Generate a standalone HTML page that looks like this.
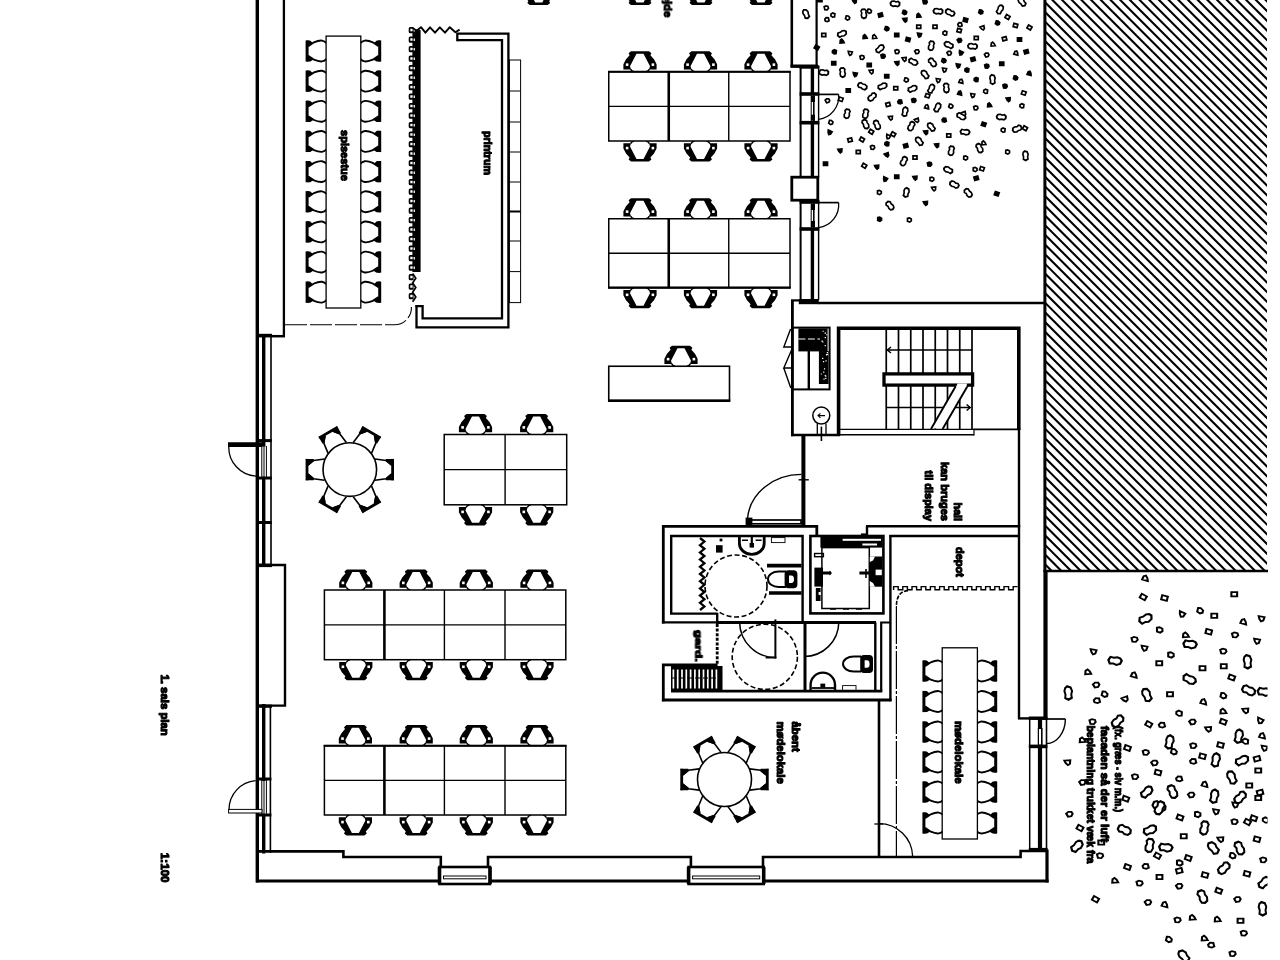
<!DOCTYPE html>
<html><head><meta charset="utf-8"><title>1. sals plan</title>
<style>html,body{margin:0;padding:0;background:#fff}body{width:1280px;height:960px;overflow:hidden}svg{display:block}text{font-family:"Liberation Sans",sans-serif;font-weight:bold;fill:#000;stroke:#000;stroke-width:1.1px;stroke-linejoin:round}</style>
</head><body>
<svg width="1280" height="960" viewBox="0 0 1280 960" fill="none" stroke="#000" stroke-linecap="butt" stroke-linejoin="miter">
<defs>
<g id="c1"><path d="M1.5 -10.6V10.6" stroke-width="3"/><path d="M2.6 -4.9L8.4 -8.7Q13 -10.7 16.4 -10.4Q19 -10 20.8 -8M2.6 4.9L8.4 8.7Q13 10.7 16.4 10.4Q19 10 20.8 8" stroke-width="1.9"/><path d="M1 -10.6L4.4 -10.6L7 -8.2L2.2 -4.4ZM1 10.6L4.6 10.6L8 8.4L2.4 4.2Z" fill="#000" stroke="none"/></g>
<g id="c3"><path d="M1.4 -10.7V10.7" stroke-width="2.8"/><path d="M2.6 -4.6L8 -9.2L19 -10.6M2.6 4.6L8 9.2L19 10.6" stroke-width="1.6"/><path d="M0 -10.7L8 -10.7L8.6 -8.6L2.4 -3.6ZM0 10.7L8 10.7L8.6 8.6L2.4 3.6Z" fill="#000" stroke="none"/></g>
<g id="c2"><path d="M-16.6 -2.2L-16.6 -7.5L-14 -12.5L-10.4 -16.6L-11.4 -18.4L-9 -20.6L9 -20.6L11.4 -18.4L10.4 -16.6L14 -12.5L16.6 -7.5L16.6 -2.2L9 -2.2L10 -5.6L3.5 -18L-3.5 -18L-10 -5.6L-9 -2.2Z" fill="#000" stroke="none"/><path d="M-9.4 -2.6Q-8.4 -0.6 -6 0M9.4 -2.6Q8.4 -0.6 6 0" stroke-width="1.4"/><rect x="-14.2" y="-8.4" width="2.6" height="2.6" fill="#fff" stroke="none"/><rect x="11.6" y="-8.4" width="2.6" height="2.6" fill="#fff" stroke="none"/></g>
<path id="p1" d="M-2.1 -1.2L-0.4 -2.1L1.7 -1.5L2.2 0.3L0.9 1.9L-1.4 1.7Z"/>
<path id="p2" d="M-2 -1.7L2 -1.7L2 1.7L-2 1.7Z"/>
<path id="p3" d="M-2.2 -1.5L1.9 -1.9L1.7 1L0.3 2.1L-1.2 0.6Z"/>
<path id="p4" d="M-1.8 -4L0.9 -4.2L2.5 -2.8L2.2 -0.8L3 1.2L2.3 3.4L0.2 4.2L-2 3.3L-2.6 1.2L-2 -0.6L-2.9 -2.4Z"/>
<path id="p5" d="M-0.8 -4.2L1.7 -3.5L2.8 -1.2L2.2 0.8L2.6 3L0.2 4.2L-2.2 3.2L-2 1L-2.8 -1.2L-2.3 -3.1Z"/>
<clipPath id="hc"><rect x="1045" y="0" width="222" height="571"/></clipPath>
</defs>
<g clip-path="url(#hc)" stroke-width="2.1">
<path d="M1040 578.65L1275 813.65M1040 568.97L1275 803.97M1040 559.27L1275 794.27M1040 549.59L1275 784.59M1040 539.89L1275 774.89M1040 530.21L1275 765.21M1040 520.51L1275 755.51M1040 510.83L1275 745.83M1040 501.13L1275 736.13M1040 491.45L1275 726.45M1040 481.76L1275 716.76M1040 472.07L1275 707.07M1040 462.38L1275 697.38M1040 452.69L1275 687.69M1040 443L1275 678M1040 433.31L1275 668.31M1040 423.62L1275 658.62M1040 413.92L1275 648.92M1040 404.24L1275 639.24M1040 394.55L1275 629.55M1040 384.86L1275 619.86M1040 375.16L1275 610.16M1040 365.48L1275 600.48M1040 355.79L1275 590.79M1040 346.1L1275 581.1M1040 336.4L1275 571.4M1040 326.72L1275 561.72M1040 317.03L1275 552.03M1040 307.34L1275 542.34M1040 297.64L1275 532.64M1040 287.96L1275 522.96M1040 278.27L1275 513.27M1040 268.58L1275 503.58M1040 258.88L1275 493.88M1040 249.2L1275 484.2M1040 239.51L1275 474.51M1040 229.82L1275 464.82M1040 220.12L1275 455.12M1040 210.44L1275 445.44M1040 200.75L1275 435.75M1040 191.06L1275 426.06M1040 181.37L1275 416.37M1040 171.68L1275 406.68M1040 161.99L1275 396.99M1040 152.3L1275 387.3M1040 142.61L1275 377.61M1040 132.92L1275 367.92M1040 123.23L1275 358.23M1040 113.54L1275 348.54M1040 103.85L1275 338.85M1040 94.16L1275 329.16M1040 84.47L1275 319.47M1040 74.78L1275 309.78M1040 65.09L1275 300.09M1040 55.4L1275 290.4M1040 45.71L1275 280.71M1040 36.02L1275 271.02M1040 26.33L1275 261.33M1040 16.64L1275 251.64M1040 6.95L1275 241.95M1040 -2.74L1275 232.26M1040 -12.43L1275 222.57M1040 -22.12L1275 212.88M1040 -31.82L1275 203.18M1040 -41.5L1275 193.5M1040 -51.19L1275 183.81M1040 -60.88L1275 174.12M1040 -70.58L1275 164.42M1040 -80.26L1275 154.74M1040 -89.95L1275 145.05M1040 -99.64L1275 135.36M1040 -109.34L1275 125.66M1040 -119.02L1275 115.98M1040 -128.71L1275 106.29M1040 -138.4L1275 96.6M1040 -148.1L1275 86.9M1040 -157.78L1275 77.22M1040 -167.47L1275 67.53M1040 -177.16L1275 57.84M1040 -186.86L1275 48.14M1040 -196.54L1275 38.46M1040 -206.23L1275 28.77M1040 -215.92L1275 19.08M1040 -225.62L1275 9.38"/>
</g>
<path d="M1044.9 0L1044.9 572" stroke-width="3"/>
<path d="M1045.5 570L1045.5 720" stroke-width="4.2"/>
<path d="M1044 571L1268 571" stroke-width="2.4"/>
<g>
<g stroke-width="1.7" fill="#fff" stroke-linejoin="miter">
<use href="#p5" transform="translate(806 14) rotate(-20) scale(0.95 1.1)"/>
<use href="#p2" transform="translate(820 0) rotate(180) scale(1 1)" fill="#000"/>
<use href="#p3" transform="translate(854.5 1.25) rotate(0) scale(1 1)" fill="#000"/>
<use href="#p4" transform="translate(895 3.75) rotate(100) scale(0.95 1.1)"/>
<use href="#p1" transform="translate(925 2) rotate(0) scale(1 1)" fill="#000"/>
<use href="#p5" transform="translate(1022 2) rotate(-35) scale(0.95 1.1)"/>
<use href="#p1" transform="translate(826.25 8) rotate(0) scale(1 1)"/>
<use href="#p1" transform="translate(833 15) rotate(200) scale(1 1)"/>
<use href="#p1" transform="translate(827 19.5) rotate(180) scale(1 1)"/>
<use href="#p1" transform="translate(847.5 18) rotate(30) scale(1 1)"/>
<use href="#p4" transform="translate(863.75 13.75) rotate(0) scale(0.95 1.1)"/>
<use href="#p1" transform="translate(869.25 11.25) rotate(30) scale(1 1)"/>
<use href="#p2" transform="translate(880.5 15) rotate(-15) scale(1 1)" fill="#000"/>
<use href="#p1" transform="translate(904.5 12.5) rotate(30) scale(1 1)" fill="#000"/>
<use href="#p3" transform="translate(905 20) rotate(0) scale(1 1)" fill="#000"/>
<use href="#p3" transform="translate(918.75 15.5) rotate(180) scale(1 1)" fill="#000"/>
<use href="#p4" transform="translate(938 11.25) rotate(100) scale(0.95 1.1)"/>
<use href="#p4" transform="translate(950 12.5) rotate(120) scale(0.95 1.1)"/>
<use href="#p1" transform="translate(980.75 12) rotate(30) scale(1 1)" fill="#000"/>
<use href="#p5" transform="translate(1000 9.5) rotate(30) scale(0.95 1.1)"/>
<use href="#p2" transform="translate(1007.5 17) rotate(30) scale(1 1)"/>
<use href="#p2" transform="translate(965.5 20) rotate(15) scale(1 1)" fill="#000"/>
<use href="#p1" transform="translate(960 24.5) rotate(180) scale(1 1)"/>
<use href="#p1" transform="translate(997.5 23) rotate(30) scale(1 1)" fill="#000"/>
<use href="#p2" transform="translate(1015.5 25.5) rotate(15) scale(1 1)"/>
<use href="#p2" transform="translate(1029.5 27.5) rotate(30) scale(1 1)"/>
<use href="#p1" transform="translate(886.75 28.75) rotate(30) scale(1 1)" fill="#000"/>
<use href="#p2" transform="translate(918.75 26.75) rotate(0) scale(1 1)"/>
<use href="#p2" transform="translate(935 26.75) rotate(0) scale(1 1)"/>
<use href="#p1" transform="translate(945 33) rotate(200) scale(1 1)"/>
<use href="#p2" transform="translate(959.25 30.5) rotate(15) scale(1 1)"/>
<use href="#p3" transform="translate(982.5 28) rotate(-15) scale(1 1)"/>
<use href="#p2" transform="translate(823.75 35) rotate(0) scale(1 1)"/>
<use href="#p5" transform="translate(842 33.75) rotate(70) scale(0.95 1.1)"/>
<use href="#p3" transform="translate(842 41.25) rotate(180) scale(1 1)" fill="#000"/>
<use href="#p3" transform="translate(865 36.75) rotate(180) scale(1 1)" fill="#000"/>
<use href="#p3" transform="translate(874.5 36.75) rotate(180) scale(1 1)"/>
<use href="#p2" transform="translate(896.75 35) rotate(180) scale(1 1)" fill="#000"/>
<use href="#p3" transform="translate(919.25 35) rotate(15) scale(1 1)" fill="#000"/>
<use href="#p2" transform="translate(908 39.5) rotate(15) scale(1 1)" fill="#000"/>
<use href="#p1" transform="translate(959.5 40.5) rotate(-15) scale(1 1)" fill="#000"/>
<use href="#p2" transform="translate(976.25 38) rotate(0) scale(1 1)"/>
<use href="#p2" transform="translate(1004.5 38.75) rotate(-15) scale(1 1)"/>
<use href="#p2" transform="translate(1019.5 39.5) rotate(0) scale(1 1)" fill="#000"/>
<use href="#p2" transform="translate(816.75 47.5) rotate(30) scale(1 1)" fill="#000"/>
<use href="#p1" transform="translate(834.5 51.75) rotate(200) scale(1 1)" fill="#000"/>
<use href="#p3" transform="translate(850 53.25) rotate(15) scale(1 1)"/>
<use href="#p5" transform="translate(880 48.75) rotate(50) scale(0.95 1.1)"/>
<use href="#p1" transform="translate(883 56.25) rotate(0) scale(1 1)" fill="#000"/>
<use href="#p1" transform="translate(897 51.75) rotate(0) scale(1 1)"/>
<use href="#p1" transform="translate(917 51.75) rotate(-15) scale(1 1)"/>
<use href="#p4" transform="translate(931.25 45.75) rotate(15) scale(0.95 1.1)"/>
<use href="#p5" transform="translate(948.75 45) rotate(-60) scale(0.95 1.1)"/>
<use href="#p1" transform="translate(949.25 53.25) rotate(-15) scale(1 1)"/>
<use href="#p3" transform="translate(960.75 53) rotate(30) scale(1 1)" fill="#000"/>
<use href="#p4" transform="translate(972.5 46.25) rotate(100) scale(0.95 1.1)"/>
<use href="#p3" transform="translate(993 44.25) rotate(180) scale(1 1)"/>
<use href="#p1" transform="translate(986.75 55) rotate(-15) scale(1 1)"/>
<use href="#p3" transform="translate(1016.25 53) rotate(200) scale(1 1)"/>
<use href="#p2" transform="translate(1026.25 51.75) rotate(-15) scale(1 1)" fill="#000"/>
<use href="#p2" transform="translate(833.75 63.25) rotate(180) scale(1 1)" fill="#000"/>
<use href="#p1" transform="translate(862 57.5) rotate(0) scale(1 1)"/>
<use href="#p2" transform="translate(869.25 65) rotate(0) scale(1 1)" fill="#000"/>
<use href="#p3" transform="translate(897 63.25) rotate(0) scale(1 1)" fill="#000"/>
<use href="#p3" transform="translate(904.25 59.25) rotate(0) scale(1 1)"/>
<use href="#p5" transform="translate(913.25 61.75) rotate(120) scale(0.95 1.1)"/>
<use href="#p4" transform="translate(932.5 62.5) rotate(-35) scale(0.95 1.1)"/>
<use href="#p1" transform="translate(943.75 60.75) rotate(30) scale(1 1)" fill="#000"/>
<use href="#p3" transform="translate(944.25 70) rotate(15) scale(1 1)"/>
<use href="#p3" transform="translate(958 65.75) rotate(15) scale(1 1)" fill="#000"/>
<use href="#p1" transform="translate(967 70) rotate(200) scale(1 1)" fill="#000"/>
<use href="#p2" transform="translate(973 59.25) rotate(-15) scale(1 1)" fill="#000"/>
<use href="#p1" transform="translate(986.75 66.25) rotate(0) scale(1 1)" fill="#000"/>
<use href="#p2" transform="translate(1001.75 63.75) rotate(180) scale(1 1)" fill="#000"/>
<use href="#p4" transform="translate(823.75 72.5) rotate(100) scale(0.95 1.1)"/>
<use href="#p4" transform="translate(842.5 72.5) rotate(0) scale(0.95 1.1)"/>
<use href="#p3" transform="translate(855 74.5) rotate(15) scale(1 1)" fill="#000"/>
<use href="#p3" transform="translate(871.25 71.75) rotate(0) scale(1 1)"/>
<use href="#p5" transform="translate(925 74.5) rotate(-35) scale(0.95 1.1)"/>
<use href="#p3" transform="translate(1029.5 73.25) rotate(200) scale(1 1)" fill="#000"/>
<use href="#p2" transform="translate(886.75 76.25) rotate(0) scale(1 1)" fill="#000"/>
<use href="#p1" transform="translate(906.25 80) rotate(30) scale(1 1)"/>
<use href="#p3" transform="translate(938 80.5) rotate(15) scale(1 1)"/>
<use href="#p3" transform="translate(961.25 81.25) rotate(200) scale(1 1)"/>
<use href="#p1" transform="translate(976.25 79.5) rotate(200) scale(1 1)" fill="#000"/>
<use href="#p5" transform="translate(992.5 79.5) rotate(0) scale(0.95 1.1)"/>
<use href="#p1" transform="translate(1015.5 78) rotate(30) scale(1 1)" fill="#000"/>
<use href="#p4" transform="translate(862.5 86.25) rotate(-60) scale(0.95 1.1)"/>
<use href="#p5" transform="translate(882.5 86.25) rotate(70) scale(0.95 1.1)"/>
<use href="#p2" transform="translate(895.75 88.25) rotate(0) scale(1 1)"/>
<use href="#p5" transform="translate(912.5 88.75) rotate(70) scale(0.95 1.1)"/>
<use href="#p5" transform="translate(931.25 88.75) rotate(30) scale(0.95 1.1)"/>
<use href="#p4" transform="translate(946.25 88) rotate(0) scale(0.95 1.1)"/>
<use href="#p1" transform="translate(1005 86.25) rotate(0) scale(1 1)" fill="#000"/>
<use href="#p2" transform="translate(848.25 90.5) rotate(0) scale(1 1)" fill="#000"/>
<use href="#p3" transform="translate(960 93) rotate(200) scale(1 1)" fill="#000"/>
<use href="#p3" transform="translate(972.5 95.5) rotate(15) scale(1 1)"/>
<use href="#p1" transform="translate(985.75 91.25) rotate(200) scale(1 1)"/>
<use href="#p2" transform="translate(1023.75 93) rotate(200) scale(1 1)"/>
<use href="#p1" transform="translate(827.5 100.75) rotate(-15) scale(1 1)"/>
<use href="#p2" transform="translate(840.75 99.25) rotate(200) scale(1 1)"/>
<use href="#p4" transform="translate(872 97) rotate(50) scale(0.95 1.1)"/>
<use href="#p2" transform="translate(888 104.5) rotate(-15) scale(1 1)"/>
<use href="#p1" transform="translate(900 101.75) rotate(180) scale(1 1)" fill="#000"/>
<use href="#p1" transform="translate(913.75 100.5) rotate(0) scale(1 1)" fill="#000"/>
<use href="#p2" transform="translate(927.5 95.75) rotate(200) scale(1 1)"/>
<use href="#p3" transform="translate(927 106.75) rotate(200) scale(1 1)"/>
<use href="#p5" transform="translate(937.5 107.5) rotate(30) scale(0.95 1.1)"/>
<use href="#p1" transform="translate(950.75 106.25) rotate(30) scale(1 1)"/>
<use href="#p1" transform="translate(975.75 108) rotate(0) scale(1 1)"/>
<use href="#p3" transform="translate(989.5 105) rotate(180) scale(1 1)" fill="#000"/>
<use href="#p3" transform="translate(1008.25 99.5) rotate(0) scale(1 1)" fill="#000"/>
<use href="#p1" transform="translate(1022 105.75) rotate(200) scale(1 1)"/>
<use href="#p4" transform="translate(847 113.75) rotate(15) scale(0.95 1.1)"/>
<use href="#p4" transform="translate(865.5 113.75) rotate(15) scale(0.95 1.1)"/>
<use href="#p3" transform="translate(890.5 118) rotate(0) scale(1 1)"/>
<use href="#p5" transform="translate(905 111.75) rotate(15) scale(0.95 1.1)"/>
<use href="#p3" transform="translate(916.75 120.5) rotate(-15) scale(1 1)"/>
<use href="#p1" transform="translate(944.25 120) rotate(180) scale(1 1)" fill="#000"/>
<use href="#p5" transform="translate(961.25 116.25) rotate(120) scale(0.95 1.1)"/>
<use href="#p3" transform="translate(963.75 113.75) rotate(-15) scale(1 1)"/>
<use href="#p4" transform="translate(1001.25 117) rotate(100) scale(0.95 1.1)"/>
<use href="#p1" transform="translate(830.75 122.5) rotate(30) scale(1 1)"/>
<use href="#p2" transform="translate(983.75 124.25) rotate(200) scale(1 1)" fill="#000"/>
<use href="#p4" transform="translate(865.5 124.25) rotate(-20) scale(0.95 1.1)"/>
<use href="#p4" transform="translate(877 125) rotate(-20) scale(0.95 1.1)"/>
<use href="#p2" transform="translate(871.25 131.75) rotate(30) scale(1 1)"/>
<use href="#p4" transform="translate(911.25 126.25) rotate(30) scale(0.95 1.1)"/>
<use href="#p5" transform="translate(931.25 127) rotate(-35) scale(0.95 1.1)"/>
<use href="#p3" transform="translate(925.75 132.5) rotate(0) scale(1 1)" fill="#000"/>
<use href="#p2" transform="translate(948.75 135.5) rotate(0) scale(1 1)"/>
<use href="#p5" transform="translate(965 132) rotate(100) scale(0.95 1.1)"/>
<use href="#p1" transform="translate(1003.25 130) rotate(200) scale(1 1)"/>
<use href="#p4" transform="translate(1017 128.75) rotate(70) scale(0.95 1.1)"/>
<use href="#p2" transform="translate(1025 128.25) rotate(30) scale(1 1)"/>
<use href="#p3" transform="translate(829.5 132.5) rotate(30) scale(1 1)" fill="#000"/>
<use href="#p2" transform="translate(850 140) rotate(-15) scale(1 1)"/>
<use href="#p2" transform="translate(862 139.5) rotate(30) scale(1 1)"/>
<use href="#p3" transform="translate(888 136.75) rotate(30) scale(1 1)"/>
<use href="#p2" transform="translate(893.25 134.25) rotate(30) scale(1 1)"/>
<use href="#p1" transform="translate(887 143.75) rotate(200) scale(1 1)" fill="#000"/>
<use href="#p5" transform="translate(919.25 141.25) rotate(-35) scale(0.95 1.1)"/>
<use href="#p2" transform="translate(905.75 145.75) rotate(-15) scale(1 1)" fill="#000"/>
<use href="#p3" transform="translate(936.75 145.5) rotate(0) scale(1 1)" fill="#000"/>
<use href="#p4" transform="translate(951.25 150.75) rotate(15) scale(0.95 1.1)"/>
<use href="#p4" transform="translate(979.5 148.25) rotate(-20) scale(0.95 1.1)"/>
<use href="#p3" transform="translate(983.75 143) rotate(180) scale(1 1)"/>
<use href="#p1" transform="translate(1007.5 152) rotate(15) scale(1 1)"/>
<use href="#p5" transform="translate(1025.5 155.75) rotate(0) scale(0.95 1.1)"/>
<use href="#p3" transform="translate(840 150.75) rotate(0) scale(1 1)" fill="#000"/>
<use href="#p2" transform="translate(858.25 152) rotate(0) scale(1 1)"/>
<use href="#p1" transform="translate(872.5 147.5) rotate(0) scale(1 1)"/>
<use href="#p3" transform="translate(886.75 155) rotate(-15) scale(1 1)" fill="#000"/>
<use href="#p4" transform="translate(903.75 161.25) rotate(30) scale(0.95 1.1)"/>
<use href="#p2" transform="translate(915 157.5) rotate(0) scale(1 1)"/>
<use href="#p1" transform="translate(965.5 158) rotate(15) scale(1 1)"/>
<use href="#p2" transform="translate(825.5 163.75) rotate(180) scale(1 1)" fill="#000"/>
<use href="#p2" transform="translate(864.25 165.75) rotate(30) scale(1 1)"/>
<use href="#p3" transform="translate(876.75 167) rotate(0) scale(1 1)" fill="#000"/>
<use href="#p1" transform="translate(929.5 164.25) rotate(0) scale(1 1)" fill="#000"/>
<use href="#p5" transform="translate(948.25 170) rotate(-60) scale(0.95 1.1)"/>
<use href="#p1" transform="translate(975 169.5) rotate(15) scale(1 1)"/>
<use href="#p2" transform="translate(982 168.75) rotate(200) scale(1 1)"/>
<use href="#p2" transform="translate(976.25 178.25) rotate(-15) scale(1 1)" fill="#000"/>
<use href="#p3" transform="translate(885 179.25) rotate(30) scale(1 1)" fill="#000"/>
<use href="#p2" transform="translate(896.75 176.75) rotate(0) scale(1 1)" fill="#000"/>
<use href="#p3" transform="translate(915 178) rotate(0) scale(1 1)" fill="#000"/>
<use href="#p1" transform="translate(931.75 179.25) rotate(15) scale(1 1)"/>
<use href="#p3" transform="translate(933.75 188.75) rotate(0) scale(1 1)"/>
<use href="#p4" transform="translate(954.25 184.5) rotate(120) scale(0.95 1.1)"/>
<use href="#p4" transform="translate(968.25 193) rotate(-35) scale(0.95 1.1)"/>
<use href="#p2" transform="translate(996.75 193.75) rotate(200) scale(1 1)" fill="#000"/>
<use href="#p1" transform="translate(879.25 192.5) rotate(15) scale(1 1)"/>
<use href="#p5" transform="translate(906.25 192.5) rotate(15) scale(0.95 1.1)"/>
<use href="#p3" transform="translate(925.5 203.25) rotate(0) scale(1 1)" fill="#000"/>
<use href="#p4" transform="translate(890 205.75) rotate(-35) scale(0.95 1.1)"/>
<use href="#p1" transform="translate(879.5 219.25) rotate(15) scale(1 1)" fill="#000"/>
<use href="#p1" transform="translate(909.25 220) rotate(15) scale(1 1)"/>
</g>
</g>
<g clip-path="url(#rc)">
<clipPath id="rc"><rect x="1040" y="560" width="227.5" height="400"/></clipPath>
<g stroke-width="1.44" fill="#fff" stroke-linejoin="miter">
<use href="#p3" transform="translate(1145.5 578.25) rotate(200) scale(1.44 1.25)"/>
<use href="#p2" transform="translate(1143.25 597) rotate(30) scale(1.44 1.25)"/>
<use href="#p2" transform="translate(1164.5 598) rotate(15) scale(1.44 1.25)"/>
<use href="#p2" transform="translate(1234.25 594.25) rotate(0) scale(1.44 1.25)"/>
<use href="#p3" transform="translate(1181.75 614.25) rotate(30) scale(1.44 1.25)"/>
<use href="#p1" transform="translate(1200 610.75) rotate(30) scale(1.44 1.25)"/>
<use href="#p2" transform="translate(1214.25 615.75) rotate(0) scale(1.44 1.25)"/>
<use href="#p5" transform="translate(1145.5 618.75) rotate(70) scale(1.37 1.58)"/>
<use href="#p3" transform="translate(1243.75 621.75) rotate(200) scale(1.44 1.25)"/>
<use href="#p3" transform="translate(1261.25 618.75) rotate(15) scale(1.44 1.25)"/>
<use href="#p1" transform="translate(1159.5 630) rotate(15) scale(1.44 1.25)"/>
<use href="#p3" transform="translate(1185.75 635) rotate(180) scale(1.44 1.25)"/>
<use href="#p2" transform="translate(1208.75 631.75) rotate(15) scale(1.44 1.25)"/>
<use href="#p1" transform="translate(1235 635) rotate(0) scale(1.44 1.25)"/>
<use href="#p3" transform="translate(1256.75 641.25) rotate(15) scale(1.44 1.25)"/>
<use href="#p1" transform="translate(1134.5 639.5) rotate(0) scale(1.44 1.25)"/>
<use href="#p5" transform="translate(1190 644.25) rotate(100) scale(1.37 1.58)"/>
<use href="#p3" transform="translate(1144.25 648.25) rotate(15) scale(1.44 1.25)"/>
<use href="#p3" transform="translate(1093.25 651.75) rotate(15) scale(1.44 1.25)"/>
<use href="#p1" transform="translate(1223.25 651.25) rotate(0) scale(1.44 1.25)"/>
<use href="#p1" transform="translate(1170.75 655) rotate(15) scale(1.44 1.25)"/>
<use href="#p5" transform="translate(1115 660.75) rotate(100) scale(1.37 1.58)"/>
<use href="#p2" transform="translate(1159.25 663.25) rotate(0) scale(1.44 1.25)"/>
<use href="#p5" transform="translate(1247.5 661.75) rotate(0) scale(1.37 1.58)"/>
<use href="#p2" transform="translate(1202.5 668.25) rotate(0) scale(1.44 1.25)"/>
<use href="#p2" transform="translate(1223.75 666.25) rotate(0) scale(1.44 1.25)"/>
<use href="#p3" transform="translate(1088 672) rotate(180) scale(1.44 1.25)"/>
<use href="#p3" transform="translate(1134.25 675) rotate(200) scale(1.44 1.25)"/>
<use href="#p2" transform="translate(1231.75 677.5) rotate(200) scale(1.44 1.25)"/>
<use href="#p5" transform="translate(1189.5 679.25) rotate(120) scale(1.37 1.58)"/>
<use href="#p1" transform="translate(1096.25 685) rotate(-15) scale(1.44 1.25)"/>
<use href="#p5" transform="translate(1068.25 693) rotate(0) scale(1.37 1.58)"/>
<use href="#p1" transform="translate(1104.5 694.25) rotate(30) scale(1.44 1.25)"/>
<use href="#p1" transform="translate(1097 700.5) rotate(180) scale(1.44 1.25)"/>
<use href="#p3" transform="translate(1125 699.25) rotate(-15) scale(1.44 1.25)"/>
<use href="#p5" transform="translate(1146.75 695) rotate(-20) scale(1.37 1.58)"/>
<use href="#p2" transform="translate(1170 694.25) rotate(180) scale(1.44 1.25)"/>
<use href="#p4" transform="translate(1248.75 690.5) rotate(-60) scale(1.37 1.58)"/>
<use href="#p5" transform="translate(1264.25 691.75) rotate(100) scale(1.37 1.58)"/>
<use href="#p1" transform="translate(1223.25 695.75) rotate(30) scale(1.44 1.25)"/>
<use href="#p3" transform="translate(1203.75 701.75) rotate(200) scale(1.44 1.25)"/>
<use href="#p1" transform="translate(1179.25 713.25) rotate(200) scale(1.44 1.25)"/>
<use href="#p3" transform="translate(1223.25 711.25) rotate(180) scale(1.44 1.25)"/>
<use href="#p3" transform="translate(1245.5 710.75) rotate(0) scale(1.44 1.25)"/>
<use href="#p1" transform="translate(1092.5 721.75) rotate(0) scale(1.44 1.25)"/>
<use href="#p4" transform="translate(1117.5 721.25) rotate(50) scale(1.37 1.58)"/>
<use href="#p2" transform="translate(1148.75 724.25) rotate(30) scale(1.44 1.25)"/>
<use href="#p1" transform="translate(1162 725) rotate(180) scale(1.44 1.25)"/>
<use href="#p1" transform="translate(1192.5 722) rotate(-15) scale(1.44 1.25)"/>
<use href="#p2" transform="translate(1223.25 721.75) rotate(200) scale(1.44 1.25)"/>
<use href="#p3" transform="translate(1260 720.75) rotate(30) scale(1.44 1.25)"/>
<use href="#p3" transform="translate(1208.25 729.25) rotate(0) scale(1.44 1.25)"/>
<use href="#p5" transform="translate(1238.75 736.25) rotate(15) scale(1.37 1.58)"/>
<use href="#p1" transform="translate(1245.5 741.25) rotate(200) scale(1.44 1.25)"/>
<use href="#p3" transform="translate(1262.5 735.75) rotate(200) scale(1.44 1.25)"/>
<use href="#p3" transform="translate(1082.5 740) rotate(180) scale(1.44 1.25)"/>
<use href="#p2" transform="translate(1127.5 748) rotate(200) scale(1.44 1.25)"/>
<use href="#p5" transform="translate(1169.5 742) rotate(15) scale(1.37 1.58)"/>
<use href="#p1" transform="translate(1173.75 751.75) rotate(30) scale(1.44 1.25)"/>
<use href="#p1" transform="translate(1193.25 745.75) rotate(0) scale(1.44 1.25)"/>
<use href="#p2" transform="translate(1220.5 745) rotate(15) scale(1.44 1.25)"/>
<use href="#p3" transform="translate(1264.25 748.25) rotate(15) scale(1.44 1.25)"/>
<use href="#p1" transform="translate(1145.75 752.5) rotate(0) scale(1.44 1.25)"/>
<use href="#p2" transform="translate(1202.5 756.25) rotate(15) scale(1.44 1.25)"/>
<use href="#p1" transform="translate(1193.25 761.25) rotate(180) scale(1.44 1.25)"/>
<use href="#p5" transform="translate(1215.75 760) rotate(15) scale(1.37 1.58)"/>
<use href="#p5" transform="translate(1242 760.5) rotate(70) scale(1.37 1.58)"/>
<use href="#p2" transform="translate(1257 758.75) rotate(-15) scale(1.44 1.25)"/>
<use href="#p3" transform="translate(1067.5 762.5) rotate(0) scale(1.44 1.25)"/>
<use href="#p1" transform="translate(1154.5 763) rotate(-15) scale(1.44 1.25)"/>
<use href="#p2" transform="translate(1258.25 770.5) rotate(0) scale(1.44 1.25)"/>
<use href="#p2" transform="translate(1158 772.5) rotate(15) scale(1.44 1.25)"/>
<use href="#p1" transform="translate(1135 776.75) rotate(0) scale(1.44 1.25)"/>
<use href="#p1" transform="translate(1179.25 778.75) rotate(180) scale(1.44 1.25)"/>
<use href="#p5" transform="translate(1231.75 777.5) rotate(-20) scale(1.37 1.58)"/>
<use href="#p3" transform="translate(1205 784.25) rotate(200) scale(1.44 1.25)"/>
<use href="#p2" transform="translate(1249.25 785.5) rotate(0) scale(1.44 1.25)"/>
<use href="#p1" transform="translate(1082.5 782.5) rotate(-15) scale(1.44 1.25)"/>
<use href="#p5" transform="translate(1146.75 792) rotate(50) scale(1.37 1.58)"/>
<use href="#p4" transform="translate(1172.5 791.75) rotate(-20) scale(1.37 1.58)"/>
<use href="#p1" transform="translate(1191.25 795) rotate(-15) scale(1.44 1.25)"/>
<use href="#p5" transform="translate(1214.25 796.25) rotate(15) scale(1.37 1.58)"/>
<use href="#p4" transform="translate(1240 797.5) rotate(50) scale(1.37 1.58)"/>
<use href="#p2" transform="translate(1260 792.5) rotate(-15) scale(1.44 1.25)"/>
<use href="#p2" transform="translate(1258.25 798) rotate(0) scale(1.44 1.25)"/>
<use href="#p2" transform="translate(1125.75 798.75) rotate(200) scale(1.44 1.25)"/>
<use href="#p4" transform="translate(1159.25 806.25) rotate(-60) scale(1.37 1.58)"/>
<use href="#p3" transform="translate(1235 805) rotate(15) scale(1.44 1.25)"/>
</g>
<g stroke-width="1.44" fill="#fff" stroke-linejoin="miter">
<use href="#p1" transform="translate(1069.5 814.25) rotate(-15) scale(1.44 1.25)"/>
<use href="#p4" transform="translate(1159.5 808) rotate(30) scale(1.37 1.58)"/>
<use href="#p2" transform="translate(1180 817.5) rotate(200) scale(1.44 1.25)"/>
<use href="#p1" transform="translate(1197.5 814.5) rotate(15) scale(1.44 1.25)"/>
<use href="#p3" transform="translate(1215.75 811.75) rotate(15) scale(1.44 1.25)"/>
<use href="#p1" transform="translate(1234.5 821.75) rotate(0) scale(1.44 1.25)"/>
<use href="#p2" transform="translate(1247.5 822) rotate(30) scale(1.44 1.25)"/>
<use href="#p2" transform="translate(1253.75 818.25) rotate(200) scale(1.44 1.25)"/>
<use href="#p1" transform="translate(1265.75 820) rotate(200) scale(1.44 1.25)"/>
<use href="#p2" transform="translate(1080 828) rotate(30) scale(1.44 1.25)"/>
<use href="#p4" transform="translate(1124.5 830) rotate(-60) scale(1.37 1.58)"/>
<use href="#p5" transform="translate(1150 830) rotate(70) scale(1.37 1.58)"/>
<use href="#p4" transform="translate(1204.25 828) rotate(15) scale(1.37 1.58)"/>
<use href="#p2" transform="translate(1183.75 836.25) rotate(0) scale(1.44 1.25)"/>
<use href="#p3" transform="translate(1220.5 839.5) rotate(0) scale(1.44 1.25)"/>
<use href="#p2" transform="translate(1257 839.25) rotate(15) scale(1.44 1.25)"/>
<use href="#p2" transform="translate(1101.25 842.5) rotate(180) scale(1.44 1.25)"/>
<use href="#p5" transform="translate(1077 846.25) rotate(50) scale(1.37 1.58)"/>
<use href="#p4" transform="translate(1149.5 845.5) rotate(15) scale(1.37 1.58)"/>
<use href="#p5" transform="translate(1165.75 847.5) rotate(100) scale(1.37 1.58)"/>
<use href="#p5" transform="translate(1213.25 848) rotate(-35) scale(1.37 1.58)"/>
<use href="#p4" transform="translate(1239.5 848.25) rotate(-20) scale(1.37 1.58)"/>
<use href="#p1" transform="translate(1100 855.75) rotate(0) scale(1.44 1.25)"/>
<use href="#p2" transform="translate(1157.5 855.75) rotate(30) scale(1.44 1.25)"/>
<use href="#p2" transform="translate(1188.25 858) rotate(200) scale(1.44 1.25)"/>
<use href="#p1" transform="translate(1232.5 855.75) rotate(30) scale(1.44 1.25)"/>
<use href="#p1" transform="translate(1263.25 860) rotate(0) scale(1.44 1.25)"/>
<use href="#p1" transform="translate(1179.5 863) rotate(15) scale(1.44 1.25)"/>
<use href="#p2" transform="translate(1127.5 867) rotate(200) scale(1.44 1.25)"/>
<use href="#p1" transform="translate(1145.75 866.25) rotate(180) scale(1.44 1.25)"/>
<use href="#p2" transform="translate(1179.25 870.75) rotate(-15) scale(1.44 1.25)"/>
<use href="#p4" transform="translate(1223.75 868.25) rotate(50) scale(1.37 1.58)"/>
<use href="#p2" transform="translate(1247 873.75) rotate(15) scale(1.44 1.25)"/>
<use href="#p2" transform="translate(1205 875) rotate(15) scale(1.44 1.25)"/>
<use href="#p2" transform="translate(1159.5 877) rotate(0) scale(1.44 1.25)"/>
<use href="#p3" transform="translate(1115 880.5) rotate(180) scale(1.44 1.25)"/>
<use href="#p1" transform="translate(1139.5 883.25) rotate(0) scale(1.44 1.25)"/>
<use href="#p1" transform="translate(1179.25 886.25) rotate(-15) scale(1.44 1.25)"/>
<use href="#p5" transform="translate(1264.25 882.5) rotate(50) scale(1.37 1.58)"/>
<use href="#p2" transform="translate(1218.75 890.75) rotate(200) scale(1.44 1.25)"/>
<use href="#p4" transform="translate(1202.5 896.75) rotate(-20) scale(1.37 1.58)"/>
<use href="#p1" transform="translate(1237.5 899.5) rotate(-15) scale(1.44 1.25)"/>
<use href="#p2" transform="translate(1095.5 899.25) rotate(30) scale(1.44 1.25)"/>
<use href="#p1" transform="translate(1148 902.5) rotate(-15) scale(1.44 1.25)"/>
<use href="#p3" transform="translate(1165 904.5) rotate(200) scale(1.44 1.25)"/>
<use href="#p5" transform="translate(1262.5 908.75) rotate(0) scale(1.37 1.58)"/>
<use href="#p1" transform="translate(1177.5 920) rotate(0) scale(1.44 1.25)"/>
<use href="#p3" transform="translate(1192.5 917.5) rotate(180) scale(1.44 1.25)"/>
<use href="#p3" transform="translate(1217.5 919.25) rotate(180) scale(1.44 1.25)"/>
<use href="#p2" transform="translate(1240.5 920.75) rotate(0) scale(1.44 1.25)"/>
<use href="#p1" transform="translate(1243.75 933.25) rotate(0) scale(1.44 1.25)"/>
<use href="#p1" transform="translate(1168.75 939.5) rotate(30) scale(1.44 1.25)"/>
<use href="#p3" transform="translate(1204.5 938.25) rotate(180) scale(1.44 1.25)"/>
<use href="#p1" transform="translate(1211.25 945) rotate(180) scale(1.44 1.25)"/>
<use href="#p5" transform="translate(1183.75 956.25) rotate(-35) scale(1.37 1.58)"/>
<use href="#p1" transform="translate(1232.5 953.75) rotate(0) scale(1.44 1.25)"/>
</g>
</g>
<use href="#c2" transform="translate(538.75 -15.5) rotate(180)"/>
<use href="#c2" transform="translate(640 -15.5) rotate(180)"/>
<use href="#c2" transform="translate(701 -15.5) rotate(180)"/>
<use href="#c2" transform="translate(761 -15.5) rotate(180)"/>
<use href="#c2" transform="translate(640 71.75)"/>
<use href="#c2" transform="translate(640 141) rotate(180)"/>
<use href="#c2" transform="translate(700.5 71.75)"/>
<use href="#c2" transform="translate(700.5 141) rotate(180)"/>
<use href="#c2" transform="translate(761 71.75)"/>
<use href="#c2" transform="translate(761 141) rotate(180)"/>
<rect x="608.75" y="71.75" width="181.25" height="69.25" stroke-width="1.5" fill="#fff"/>
<path d="M608.05 71.75L790.7 71.75" stroke-width="2"/>
<path d="M608.75 106.38L790 106.38" stroke-width="1.4"/>
<path d="M668.75 71.75L668.75 141" stroke-width="2.6"/>
<path d="M728.75 71.75L728.75 141" stroke-width="1.4"/>
<use href="#c2" transform="translate(640 218.75)"/>
<use href="#c2" transform="translate(640 287.7) rotate(180)"/>
<use href="#c2" transform="translate(700.5 218.75)"/>
<use href="#c2" transform="translate(700.5 287.7) rotate(180)"/>
<use href="#c2" transform="translate(761 218.75)"/>
<use href="#c2" transform="translate(761 287.7) rotate(180)"/>
<rect x="608.75" y="218.75" width="181.25" height="68.95" stroke-width="1.5" fill="#fff"/>
<path d="M608.05 287.7L790.7 287.7" stroke-width="2.2"/>
<path d="M608.75 253.22L790 253.22" stroke-width="1.4"/>
<path d="M668.75 218.75L668.75 287.7" stroke-width="2.6"/>
<path d="M728.75 218.75L728.75 287.7" stroke-width="1.4"/>
<use href="#c2" transform="translate(681 366.25)"/>
<rect x="608.75" y="366.25" width="120.75" height="34.25" stroke-width="1.6" fill="#fff"/>
<path d="M608 400.7L730.3 400.7" stroke-width="2.6"/>
<use href="#c2" transform="translate(475.5 434.5)"/>
<use href="#c2" transform="translate(475.5 504.8) rotate(180)"/>
<use href="#c2" transform="translate(536.7 434.5)"/>
<use href="#c2" transform="translate(536.7 504.8) rotate(180)"/>
<rect x="444.2" y="434.5" width="122.5" height="70.3" stroke-width="1.5" fill="#fff"/>
<path d="M444.2 469.65L566.7 469.65" stroke-width="1.4"/>
<path d="M505.1 434.5L505.1 504.8" stroke-width="1.4"/>
<use href="#c2" transform="translate(355.8 590)"/>
<use href="#c2" transform="translate(355.8 659.7) rotate(180)"/>
<use href="#c2" transform="translate(416.2 590)"/>
<use href="#c2" transform="translate(416.2 659.7) rotate(180)"/>
<use href="#c2" transform="translate(476.3 590)"/>
<use href="#c2" transform="translate(476.3 659.7) rotate(180)"/>
<use href="#c2" transform="translate(537 590)"/>
<use href="#c2" transform="translate(537 659.7) rotate(180)"/>
<rect x="324.4" y="590" width="241.4" height="69.7" stroke-width="1.5" fill="#fff"/>
<path d="M324.4 624.85L565.8 624.85" stroke-width="1.4"/>
<path d="M384.4 590L384.4 659.7" stroke-width="2.6"/>
<path d="M444.4 590L444.4 659.7" stroke-width="1.4"/>
<path d="M505 590L505 659.7" stroke-width="1.4"/>
<use href="#c2" transform="translate(355.4 745.7)"/>
<use href="#c2" transform="translate(355.4 815) rotate(180)"/>
<use href="#c2" transform="translate(416.2 745.7)"/>
<use href="#c2" transform="translate(416.2 815) rotate(180)"/>
<use href="#c2" transform="translate(476.3 745.7)"/>
<use href="#c2" transform="translate(476.3 815) rotate(180)"/>
<use href="#c2" transform="translate(537 745.7)"/>
<use href="#c2" transform="translate(537 815) rotate(180)"/>
<rect x="324.4" y="745.7" width="241.4" height="69.3" stroke-width="1.5" fill="#fff"/>
<path d="M323.7 745.7L566.5 745.7" stroke-width="2"/>
<path d="M324.4 780.35L565.8 780.35" stroke-width="1.4"/>
<path d="M384.4 745.7L384.4 815" stroke-width="2.6"/>
<path d="M444.4 745.7L444.4 815" stroke-width="1.4"/>
<path d="M505 745.7L505 815" stroke-width="1.4"/>
<use href="#c1" transform="translate(305.6 51)"/>
<use href="#c1" transform="translate(381.2 51) scale(-1 1)"/>
<use href="#c1" transform="translate(305.6 81.15)"/>
<use href="#c1" transform="translate(381.2 81.15) scale(-1 1)"/>
<use href="#c1" transform="translate(305.6 111.3)"/>
<use href="#c1" transform="translate(381.2 111.3) scale(-1 1)"/>
<use href="#c1" transform="translate(305.6 141.45)"/>
<use href="#c1" transform="translate(381.2 141.45) scale(-1 1)"/>
<use href="#c1" transform="translate(305.6 171.6)"/>
<use href="#c1" transform="translate(381.2 171.6) scale(-1 1)"/>
<use href="#c1" transform="translate(305.6 201.75)"/>
<use href="#c1" transform="translate(381.2 201.75) scale(-1 1)"/>
<use href="#c1" transform="translate(305.6 231.9)"/>
<use href="#c1" transform="translate(381.2 231.9) scale(-1 1)"/>
<use href="#c1" transform="translate(305.6 262.05)"/>
<use href="#c1" transform="translate(381.2 262.05) scale(-1 1)"/>
<use href="#c1" transform="translate(305.6 292.2)"/>
<use href="#c1" transform="translate(381.2 292.2) scale(-1 1)"/>
<rect x="326.1" y="36.1" width="34.7" height="271.9" stroke-width="1.3" fill="#fff"/>
<use href="#c1" transform="translate(922.4 671)"/>
<use href="#c1" transform="translate(997.2 671) scale(-1 1)"/>
<use href="#c1" transform="translate(922.4 701.5)"/>
<use href="#c1" transform="translate(997.2 701.5) scale(-1 1)"/>
<use href="#c1" transform="translate(922.4 732)"/>
<use href="#c1" transform="translate(997.2 732) scale(-1 1)"/>
<use href="#c1" transform="translate(922.4 762)"/>
<use href="#c1" transform="translate(997.2 762) scale(-1 1)"/>
<use href="#c1" transform="translate(922.4 792)"/>
<use href="#c1" transform="translate(997.2 792) scale(-1 1)"/>
<use href="#c1" transform="translate(922.4 823)"/>
<use href="#c1" transform="translate(997.2 823) scale(-1 1)"/>
<rect x="942.2" y="647.8" width="35.2" height="191.2" stroke-width="1.3" fill="#fff"/>
<use href="#c3" transform="translate(394 469.6) rotate(180)"/>
<use href="#c3" transform="translate(371.9 507.88) rotate(240)"/>
<use href="#c3" transform="translate(327.7 507.88) rotate(300)"/>
<use href="#c3" transform="translate(305.6 469.6) rotate(360)"/>
<use href="#c3" transform="translate(327.7 431.32) rotate(420)"/>
<use href="#c3" transform="translate(371.9 431.32) rotate(480)"/>
<circle cx="349.8" cy="469.6" r="26.8" fill="#fff" stroke-width="1.6"/>
<use href="#c3" transform="translate(768.7 779.5) rotate(180)"/>
<use href="#c3" transform="translate(746.6 817.78) rotate(240)"/>
<use href="#c3" transform="translate(702.4 817.78) rotate(300)"/>
<use href="#c3" transform="translate(680.3 779.5) rotate(360)"/>
<use href="#c3" transform="translate(702.4 741.22) rotate(420)"/>
<use href="#c3" transform="translate(746.6 741.22) rotate(480)"/>
<circle cx="724.5" cy="779.5" r="27" fill="#fff" stroke-width="1.6"/>
<path d="M457.3 41.3L457.3 33.6L508.4 33.6L508.4 327.3L416.5 327.3L416.5 305.2" stroke-width="2.3" fill="none"/>
<path d="M457.3 40.2L502 40.2L502 318.4L422.6 318.4L422.6 306.2L415.4 306.2" stroke-width="2.3" fill="none"/>
<rect x="509.4" y="60" width="11.2" height="242.6" stroke-width="1" fill="none"/>
<path d="M509.4 91L520.6 91" stroke-width="1"/>
<path d="M509.4 122L520.6 122" stroke-width="1"/>
<path d="M509.4 152L520.6 152" stroke-width="1"/>
<path d="M509.4 182L520.6 182" stroke-width="1"/>
<path d="M509.4 211.5L520.6 211.5" stroke-width="2"/>
<path d="M509.4 241L520.6 241" stroke-width="1"/>
<path d="M509.4 271.6L520.6 271.6" stroke-width="1"/>
<rect x="412.4" y="30" width="8.2" height="242" stroke-width="0" fill="#000" stroke="none"/>
<path d="M410.2 26.9h3.4v6.4h-3.4a1.5 1.5 0 0 1 -1.5 -1.5v-3.4a1.5 1.5 0 0 1 1.5 -1.5zM410.2 36.4h3.4v6.4h-3.4a1.5 1.5 0 0 1 -1.5 -1.5v-3.4a1.5 1.5 0 0 1 1.5 -1.5zM410.2 45.9h3.4v6.4h-3.4a1.5 1.5 0 0 1 -1.5 -1.5v-3.4a1.5 1.5 0 0 1 1.5 -1.5zM410.2 55.4h3.4v6.4h-3.4a1.5 1.5 0 0 1 -1.5 -1.5v-3.4a1.5 1.5 0 0 1 1.5 -1.5zM410.2 64.9h3.4v6.4h-3.4a1.5 1.5 0 0 1 -1.5 -1.5v-3.4a1.5 1.5 0 0 1 1.5 -1.5zM410.2 74.4h3.4v6.4h-3.4a1.5 1.5 0 0 1 -1.5 -1.5v-3.4a1.5 1.5 0 0 1 1.5 -1.5zM410.2 83.9h3.4v6.4h-3.4a1.5 1.5 0 0 1 -1.5 -1.5v-3.4a1.5 1.5 0 0 1 1.5 -1.5zM410.2 93.4h3.4v6.4h-3.4a1.5 1.5 0 0 1 -1.5 -1.5v-3.4a1.5 1.5 0 0 1 1.5 -1.5zM410.2 102.9h3.4v6.4h-3.4a1.5 1.5 0 0 1 -1.5 -1.5v-3.4a1.5 1.5 0 0 1 1.5 -1.5zM410.2 112.4h3.4v6.4h-3.4a1.5 1.5 0 0 1 -1.5 -1.5v-3.4a1.5 1.5 0 0 1 1.5 -1.5zM410.2 121.9h3.4v6.4h-3.4a1.5 1.5 0 0 1 -1.5 -1.5v-3.4a1.5 1.5 0 0 1 1.5 -1.5zM410.2 131.4h3.4v6.4h-3.4a1.5 1.5 0 0 1 -1.5 -1.5v-3.4a1.5 1.5 0 0 1 1.5 -1.5zM410.2 140.9h3.4v6.4h-3.4a1.5 1.5 0 0 1 -1.5 -1.5v-3.4a1.5 1.5 0 0 1 1.5 -1.5zM410.2 150.4h3.4v6.4h-3.4a1.5 1.5 0 0 1 -1.5 -1.5v-3.4a1.5 1.5 0 0 1 1.5 -1.5zM410.2 159.9h3.4v6.4h-3.4a1.5 1.5 0 0 1 -1.5 -1.5v-3.4a1.5 1.5 0 0 1 1.5 -1.5zM410.2 169.4h3.4v6.4h-3.4a1.5 1.5 0 0 1 -1.5 -1.5v-3.4a1.5 1.5 0 0 1 1.5 -1.5zM410.2 178.9h3.4v6.4h-3.4a1.5 1.5 0 0 1 -1.5 -1.5v-3.4a1.5 1.5 0 0 1 1.5 -1.5zM410.2 188.4h3.4v6.4h-3.4a1.5 1.5 0 0 1 -1.5 -1.5v-3.4a1.5 1.5 0 0 1 1.5 -1.5zM410.2 197.9h3.4v6.4h-3.4a1.5 1.5 0 0 1 -1.5 -1.5v-3.4a1.5 1.5 0 0 1 1.5 -1.5zM410.2 207.4h3.4v6.4h-3.4a1.5 1.5 0 0 1 -1.5 -1.5v-3.4a1.5 1.5 0 0 1 1.5 -1.5zM410.2 216.9h3.4v6.4h-3.4a1.5 1.5 0 0 1 -1.5 -1.5v-3.4a1.5 1.5 0 0 1 1.5 -1.5zM410.2 226.4h3.4v6.4h-3.4a1.5 1.5 0 0 1 -1.5 -1.5v-3.4a1.5 1.5 0 0 1 1.5 -1.5zM410.2 235.9h3.4v6.4h-3.4a1.5 1.5 0 0 1 -1.5 -1.5v-3.4a1.5 1.5 0 0 1 1.5 -1.5zM410.2 245.4h3.4v6.4h-3.4a1.5 1.5 0 0 1 -1.5 -1.5v-3.4a1.5 1.5 0 0 1 1.5 -1.5zM410.2 254.9h3.4v6.4h-3.4a1.5 1.5 0 0 1 -1.5 -1.5v-3.4a1.5 1.5 0 0 1 1.5 -1.5zM410.2 264.4h3.4v6.4h-3.4a1.5 1.5 0 0 1 -1.5 -1.5v-3.4a1.5 1.5 0 0 1 1.5 -1.5zM410.2 273.9h3.4v6.4h-3.4a1.5 1.5 0 0 1 -1.5 -1.5v-3.4a1.5 1.5 0 0 1 1.5 -1.5zM410.2 283.4h3.4v6.4h-3.4a1.5 1.5 0 0 1 -1.5 -1.5v-3.4a1.5 1.5 0 0 1 1.5 -1.5zM410.2 292.9h3.4v6.4h-3.4a1.5 1.5 0 0 1 -1.5 -1.5v-3.4a1.5 1.5 0 0 1 1.5 -1.5z" fill="#000" stroke="none"/>
<path d="M410.3 28.8h2.3v2.5h-2.3zM413.6 29.1h1.3v2.3h-1.3zM410.3 38.3h2.3v2.5h-2.3zM413.6 38.6h1.3v2.3h-1.3zM410.3 47.8h2.3v2.5h-2.3zM413.6 48.1h1.3v2.3h-1.3zM410.3 57.3h2.3v2.5h-2.3zM413.6 57.6h1.3v2.3h-1.3zM410.3 66.8h2.3v2.5h-2.3zM413.6 67.1h1.3v2.3h-1.3zM410.3 76.3h2.3v2.5h-2.3zM413.6 76.6h1.3v2.3h-1.3zM410.3 85.8h2.3v2.5h-2.3zM413.6 86.1h1.3v2.3h-1.3zM410.3 95.3h2.3v2.5h-2.3zM413.6 95.6h1.3v2.3h-1.3zM410.3 104.8h2.3v2.5h-2.3zM413.6 105.1h1.3v2.3h-1.3zM410.3 114.3h2.3v2.5h-2.3zM413.6 114.6h1.3v2.3h-1.3zM410.3 123.8h2.3v2.5h-2.3zM413.6 124.1h1.3v2.3h-1.3zM410.3 133.3h2.3v2.5h-2.3zM413.6 133.6h1.3v2.3h-1.3zM410.3 142.8h2.3v2.5h-2.3zM413.6 143.1h1.3v2.3h-1.3zM410.3 152.3h2.3v2.5h-2.3zM413.6 152.6h1.3v2.3h-1.3zM410.3 161.8h2.3v2.5h-2.3zM413.6 162.1h1.3v2.3h-1.3zM410.3 171.3h2.3v2.5h-2.3zM413.6 171.6h1.3v2.3h-1.3zM410.3 180.8h2.3v2.5h-2.3zM413.6 181.1h1.3v2.3h-1.3zM410.3 190.3h2.3v2.5h-2.3zM413.6 190.6h1.3v2.3h-1.3zM410.3 199.8h2.3v2.5h-2.3zM413.6 200.1h1.3v2.3h-1.3zM410.3 209.3h2.3v2.5h-2.3zM413.6 209.6h1.3v2.3h-1.3zM410.3 218.8h2.3v2.5h-2.3zM413.6 219.1h1.3v2.3h-1.3zM410.3 228.3h2.3v2.5h-2.3zM413.6 228.6h1.3v2.3h-1.3zM410.3 237.8h2.3v2.5h-2.3zM413.6 238.1h1.3v2.3h-1.3zM410.3 247.3h2.3v2.5h-2.3zM413.6 247.6h1.3v2.3h-1.3zM410.3 256.8h2.3v2.5h-2.3zM413.6 257.1h1.3v2.3h-1.3zM410.3 266.3h2.3v2.5h-2.3zM413.6 266.6h1.3v2.3h-1.3zM410.3 275.8h2.3v2.5h-2.3zM410.3 285.3h2.3v2.5h-2.3zM410.3 294.8h2.3v2.5h-2.3z" fill="#fff" stroke="none"/>
<path d="M413 28.2L416.6 30.7L421 27.2L425.4 32.7L430 27.3L435 32.7L439.8 27.3L445 32.7L449.8 27.2L455.4 32.2L459.6 29.6" stroke-width="1.9" fill="none" stroke-linejoin="round"/>
<path d="M412.6 273.5L415.8 278.2L412.6 282.9L415.8 287.6L412.6 292.3L415.8 297L412.6 301.7" stroke-width="1.7" fill="none"/>
<path d="M285 324.8H394.5A17 17 0 0 0 411.4 307" stroke-width="1.1" stroke-dasharray="22 3"/>
<path d="M257.3 0L257.3 882.5" stroke-width="3.4"/>
<path d="M283.9 0L283.9 337" stroke-width="2.3"/>
<path d="M256 336.2L285 336.2" stroke-width="2.5"/>
<path d="M263.7 335L263.7 566" stroke-width="3.4"/>
<path d="M271 336L271 565" stroke-width="1.6"/>
<path d="M258 335.4L272 335.4" stroke-width="3.2"/>
<path d="M257 440.6L271.8 440.6" stroke-width="3"/>
<path d="M257 478L271.8 478" stroke-width="3"/>
<path d="M257 522.5L271.8 522.5" stroke-width="3"/>
<rect x="260.6" y="446.6" width="6" height="29.8" stroke-width="0" fill="#fff" stroke="none"/>
<path d="M261.8 446L261.8 477" stroke-width="1"/>
<path d="M264 446L264 477" stroke-width="1"/>
<path d="M266.4 446L266.4 477" stroke-width="1"/>
<path d="M228 444.6L262 444.6" stroke-width="4.6"/>
<path d="M228.8 446A29 29 0 0 0 256.4 476.2" stroke-width="1.3"/>
<path d="M257 565L285 565L285 705.6L257 705.6" stroke-width="2.4" fill="none"/>
<path d="M258 565.4L272 565.4" stroke-width="3.4"/>
<path d="M263.7 704L263.7 853.5" stroke-width="3.4"/>
<path d="M270.4 705L270.4 853" stroke-width="1.6"/>
<path d="M258 706.2L272 706.2" stroke-width="3.2"/>
<path d="M257 779L271.4 779" stroke-width="3"/>
<path d="M257 815L271.4 815" stroke-width="3"/>
<rect x="260.6" y="781" width="6" height="32.4" stroke-width="0" fill="#fff" stroke="none"/>
<path d="M261.8 780L261.8 814" stroke-width="1"/>
<path d="M264 780L264 814" stroke-width="1"/>
<path d="M266.4 780L266.4 814" stroke-width="1"/>
<rect x="228.6" y="809.4" width="33.4" height="3.6" stroke-width="1" fill="#fff"/>
<path d="M229 809.4A29 29 0 0 1 255.6 780.6" stroke-width="1.3"/>
<path d="M256 881L438.5 881" stroke-width="3" fill="none"/>
<path d="M491 881L687.6 881" stroke-width="3" fill="none"/>
<path d="M764.7 881L1048.6 881" stroke-width="3" fill="none"/>
<path d="M257 851.4L343.4 851.4L343.4 857L440.8 857L440.8 867" stroke-width="2.6" fill="none"/>
<path d="M488 867L488 857L690.9 857L690.9 867" stroke-width="2.6" fill="none"/>
<path d="M763 867L763 857L1020.6 857L1020.6 851L1047 851" stroke-width="2.6" fill="none"/>
<rect x="439.5" y="867" width="50.5" height="17" stroke-width="2.6" fill="none"/>
<path d="M439.5 867L439.5 884" stroke-width="3.6"/>
<path d="M490 867L490 884" stroke-width="3.6"/>
<rect x="443.5" y="876" width="42.5" height="2.8" stroke-width="1" fill="none"/>
<rect x="688.6" y="867" width="75.1" height="17" stroke-width="2.6" fill="none"/>
<path d="M688.6 867L688.6 884" stroke-width="3.6"/>
<path d="M763.7 867L763.7 884" stroke-width="3.6"/>
<rect x="692.6" y="876" width="67.1" height="2.8" stroke-width="1" fill="none"/>
<path d="M1047 849.5L1047 882.5" stroke-width="3.2"/>
<path d="M1019 428L1019 719" stroke-width="2.4"/>
<path d="M1018 718.4L1047 718.4" stroke-width="2.4"/>
<path d="M1029.7 718L1029.7 850.6" stroke-width="1.5"/>
<path d="M1040 718L1040 850.6" stroke-width="4.2"/>
<path d="M1046.5 718L1046.5 850.6" stroke-width="1.6"/>
<path d="M1028.8 718.2L1047.4 718.2" stroke-width="3.4"/>
<path d="M1028.8 746.4L1047.4 746.4" stroke-width="3.6"/>
<path d="M1028.8 849.6L1047.6 849.6" stroke-width="3.4"/>
<rect x="1037.6" y="729" width="5" height="15.4" stroke-width="0" fill="#fff" stroke="none"/>
<path d="M1038.4 728L1038.4 746" stroke-width="1.2"/>
<path d="M1041.8 728L1041.8 746" stroke-width="1.6"/>
<path d="M1046 719L1065.4 719" stroke-width="1.7"/>
<path d="M1065.4 719A19 25 0 0 1 1046.6 743.6" stroke-width="1.4"/>
<path d="M791.8 0L791.8 67" stroke-width="2.6"/>
<path d="M816.6 0L816.6 67" stroke-width="2.2"/>
<path d="M790.5 66.2L818 66.2" stroke-width="3.4"/>
<path d="M800.6 66L800.6 177.5" stroke-width="2"/>
<path d="M812.4 66L812.4 177.5" stroke-width="3.4"/>
<path d="M818.6 66L818.6 177.5" stroke-width="1.4"/>
<path d="M799.6 94L819.3 94" stroke-width="3.6"/>
<path d="M799.6 122.7L819.3 122.7" stroke-width="3.6"/>
<rect x="810" y="95.8" width="5" height="25.1" stroke-width="0" fill="#fff" stroke="none"/>
<path d="M811.2 94L811.2 122.7" stroke-width="1"/>
<path d="M813.8 94L813.8 122.7" stroke-width="1.6"/>
<rect x="811" y="96" width="4" height="6" stroke-width="0" fill="#000" stroke="none"/>
<rect x="811" y="114.7" width="4" height="6" stroke-width="0" fill="#000" stroke="none"/>
<path d="M818 94.4L838.6 94.4" stroke-width="1.7"/>
<path d="M838.6 94.4A23 23 0 0 1 818.6 119.4" stroke-width="1.3"/>
<rect x="791.8" y="177.2" width="26" height="23" stroke-width="2.8" fill="none"/>
<path d="M800.6 200L800.6 300" stroke-width="2"/>
<path d="M812.4 200L812.4 300" stroke-width="3.4"/>
<path d="M818.6 200L818.6 300" stroke-width="1.4"/>
<path d="M799.6 202L819.3 202" stroke-width="3.6"/>
<path d="M799.6 229L819.3 229" stroke-width="3.6"/>
<rect x="810" y="203.8" width="5" height="23.4" stroke-width="0" fill="#fff" stroke="none"/>
<path d="M811.2 202L811.2 229" stroke-width="1"/>
<path d="M813.8 202L813.8 229" stroke-width="1.6"/>
<rect x="811" y="204" width="4" height="6" stroke-width="0" fill="#000" stroke="none"/>
<rect x="811" y="221" width="4" height="6" stroke-width="0" fill="#000" stroke="none"/>
<path d="M818 202.6L838.6 202.6" stroke-width="1.7"/>
<path d="M838.6 202.6A23 23 0 0 1 818.6 227.6" stroke-width="1.3"/>
<path d="M799.6 67L819.3 67" stroke-width="3.4"/>
<path d="M791 300.4L800 300.4" stroke-width="2.2"/>
<rect x="798.8" y="299" width="20" height="5.2" stroke-width="0" fill="#000" stroke="none"/>
<path d="M818 303L1044 303" stroke-width="2.4"/>
<path d="M792.4 301L792.4 436.2" stroke-width="2.8"/>
<path d="M791 435L840 435" stroke-width="2.4"/>
<rect x="792.4" y="327.6" width="37.2" height="61.8" stroke-width="2" fill="none"/>
<rect x="798.4" y="328.4" width="29.2" height="23" stroke-width="0" fill="#000" stroke="none"/>
<rect x="819.6" y="351" width="9" height="33" stroke-width="0" fill="#000" stroke="none"/>
<path d="M798.4 339H820" stroke="#fff" stroke-width="1" stroke-dasharray="7 2.5"/>
<path d="M822.12 357.84h1.2v1.2h-1.2zM822.97 361.01h1.2v1.2h-1.2zM824.6 332.47h1.2v1.2h-1.2zM820.68 373.39h1.2v1.2h-1.2zM822.26 341.42h1.2v1.2h-1.2zM826.97 353.92h1.2v1.2h-1.2zM825.95 354.25h1.2v1.2h-1.2zM824.69 336.98h1.2v1.2h-1.2zM824.66 375.01h1.2v1.2h-1.2zM823.95 368.29h1.2v1.2h-1.2zM824.9 332.39h1.2v1.2h-1.2zM825.45 360.33h1.2v1.2h-1.2zM822.53 330.64h1.2v1.2h-1.2zM826.14 354.06h1.2v1.2h-1.2zM825.2 375.58h1.2v1.2h-1.2zM825.17 377.82h1.2v1.2h-1.2zM823.13 371.45h1.2v1.2h-1.2zM823.45 378.59h1.2v1.2h-1.2zM826.22 334.17h1.2v1.2h-1.2zM821.47 340.5h1.2v1.2h-1.2zM826.78 352.12h1.2v1.2h-1.2zM824.61 344.95h1.2v1.2h-1.2z" fill="#fff" stroke="none"/>
<path d="M808.8 351L808.8 389.4" stroke-width="2.4"/>
<path d="M819.6 351L819.6 384" stroke-width="1.4"/>
<path d="M790.6 329L783.8 347H792M792 349L783.8 368H792M783.8 368L790.8 388" stroke-width="1.4"/>
<circle cx="821.3" cy="415.6" r="8.5" stroke-width="1.5" fill="#fff"/>
<path d="M825 415.6H818.4M820.4 413.4L818 415.6L820.4 417.8" stroke-width="1.1"/>
<path d="M817.3 423.4V434.6M826 423.4V434.6" stroke-width="1.3"/>
<path d="M821.4 426.6L821.4 441" stroke-width="1.6"/>
<g stroke-width="1.7">
<path d="M886.25 330V429M898.5 330V429M910.75 330V429M923 330V429M935.25 330V429M947.5 330V429M959.75 330V429M972 330V429"/>
<path d="M887 350H972M886 407.5H970"/>
<path d="M891 347L887.4 350L891 353M966.6 404.5L970.2 407.5L966.6 410.5" stroke-width="1.5"/>
</g>
<path d="M956 386L968 386L942.6 428.6L931 428.6Z" stroke-width="0" fill="#fff" stroke="none"/>
<path d="M956.4 385L931 429" stroke-width="1.9"/>
<path d="M968.2 385L942.6 429" stroke-width="1.9"/>
<rect x="884" y="373.9" width="88.6" height="11.2" stroke-width="3.3" fill="#fff"/>
<path d="M957.6 383.6L967.2 383.6L966.2 387L956 387Z" stroke-width="0" fill="#fff" stroke="none"/>
<path d="M838.6 436L838.6 328.2L1018.8 328.2L1018.8 430" stroke-width="3.6" fill="none"/>
<path d="M838.6 429.4L974 429.4" stroke-width="1.2"/>
<path d="M838.6 434.8L974 434.8" stroke-width="1.6"/>
<path d="M974 428.8L974 435.6" stroke-width="1.2"/>
<path d="M974 429.4L1019 429.4" stroke-width="1.6"/>
<path d="M803.4 435L803.4 527" stroke-width="4"/>
<path d="M866 526.3L1020.2 526.3" stroke-width="2.4"/>
<path d="M801.4 474.4A54 47.6 0 0 0 747.6 518" stroke-width="1.4"/>
<rect x="748.4" y="520" width="52.6" height="3.8" stroke-width="1.7" fill="none"/>
<rect x="745.6" y="517.6" width="6.8" height="8.4" stroke-width="0" fill="#000" stroke="none"/>
<path d="M798.6 479.8L808.8 479.8" stroke-width="1.4"/>
<path d="M663.3 623.6L663.3 526.3L816.8 526.3L816.8 536" stroke-width="2.8" fill="none"/>
<path d="M867 536L867 526.3" stroke-width="2.4" fill="none"/>
<path d="M861 534.4L868 534.4" stroke-width="2"/>
<path d="M661.9 622.4L717.6 622.4" stroke-width="2.4"/>
<path d="M717.6 622.4L876 622.4" stroke-width="3"/>
<path d="M717.6 613.6L671.2 613.6L671.2 536L802.6 536L802.6 622.5" stroke-width="2.4" fill="none"/>
<rect x="810.4" y="536" width="73" height="77.4" stroke-width="2.6" fill="none"/>
<rect x="820.4" y="536.8" width="61.8" height="10.8" stroke-width="0" fill="#000" stroke="none"/>
<rect x="842.6" y="538.8" width="38.4" height="2" stroke-width="0" fill="#fff" stroke="none"/>
<rect x="862.4" y="543.5" width="14.6" height="2" stroke-width="0" fill="#fff" stroke="none"/>
<rect x="821.9" y="547.6" width="47.4" height="60.9" stroke-width="1.5" fill="none"/>
<rect x="869.8" y="556.5" width="12.4" height="30.2" stroke-width="0" fill="#000" stroke="none"/>
<path d="M869.8 556.5L875 556.5L873 560.5L869.8 562Z" stroke-width="0" fill="#fff" stroke="none"/>
<path d="M869.8 586.7L875 586.7L873 583L869.8 581Z" stroke-width="0" fill="#fff" stroke="none"/>
<rect x="875.6" y="569.6" width="6.2" height="5.6" stroke-width="0" fill="#fff" stroke="none"/>
<path d="M859.4 573L869.8 573" stroke-width="3"/>
<path d="M866 569L866 578" stroke-width="1.6"/>
<rect x="814.4" y="567.6" width="8.6" height="19" stroke-width="0" fill="#000" stroke="none"/>
<path d="M823 573L831 573" stroke-width="3"/>
<path d="M829.5 570.6L832 573L829.5 575.4Z" stroke-width="0" fill="#000" stroke="none"/>
<rect x="814.6" y="553.5" width="8.8" height="3.2" stroke-width="1.4" fill="none"/>
<rect x="815.8" y="588" width="4.8" height="13" stroke-width="0" fill="#000" stroke="none"/>
<rect x="818.6" y="592" width="2.2" height="3" stroke-width="0" fill="#fff" stroke="none"/>
<path d="M830 609H866" stroke-width="1.4" stroke-dasharray="6 7"/>
<path d="M875.3 622.5L875.3 691.4" stroke-width="2.4"/>
<path d="M881.2 691.4L881.2 622.5L890.4 622.5" stroke-width="2.2" fill="none"/>
<path d="M890.4 535L890.4 701.2" stroke-width="2.4"/>
<path d="M661.9 700L891.6 700" stroke-width="3.2"/>
<path d="M671 691.1L882.3 691.1" stroke-width="2.8"/>
<path d="M717.6 664.8L663.3 664.8L663.3 701.2" stroke-width="2.8" fill="none"/>
<path d="M717.2 613L717.2 624" stroke-width="2.4"/>
<path d="M717.2 624L717.2 665" stroke-width="2.8" stroke-dasharray="3 1.6"/>
<path d="M805 622.5L805 691.3" stroke-width="3"/>
<rect x="671" y="666" width="51.5" height="24.5" stroke-width="0" fill="#000" stroke="none"/>
<path d="M673.4 669.5v19M677.7 669.5v19M682 669.5v19M686.3 669.5v19M690.6 669.5v19M694.9 669.5v19M699.2 669.5v19M703.5 669.5v19M707.8 669.5v19M712.1 669.5v19M716.4 669.5v19" stroke="#fff" stroke-width="1.7"/>
<path d="M671 678H722" stroke="#000" stroke-width="1.2" stroke-dasharray="5 3"/>
<path d="M700 538L704.4 541.6L700 545.2L704.4 548.8L700 552.4L704.4 556L700 559.6L704.4 563.2L700 566.8L704.4 570.4L700 574L704.4 577.6L700 581.2L704.4 584.8L700 588.4L704.4 592L700 595.6L704.4 599.2L700 602.8L704.4 606.4L700 610" stroke-width="2.3" fill="none"/>
<circle cx="736" cy="586" r="31" stroke-width="1.6" stroke-dasharray="5 2.6" fill="none"/>
<circle cx="764.8" cy="656.8" r="32.6" stroke-width="1.6" stroke-dasharray="5 2.6" fill="none"/>
<path d="M775.4 619.4L775.4 658.4" stroke-width="2"/>
<path d="M765.6 657.6L776.4 657.6" stroke-width="1.8"/>
<path d="M739.6 622.5A36 36 0 0 0 775.4 657.6" stroke-width="1.5"/>
<path d="M838.8 622.5A34.5 34.5 0 0 1 804 656.4" stroke-width="1.5"/>
<path d="M767 565.6L801.5 565.6" stroke-width="3.6"/>
<path d="M769 593L801.5 593" stroke-width="3.6"/>
<path d="M786 571.4H778.6A10.6 7.8 0 0 0 778.6 587H786" stroke-width="2"/>
<rect x="785.4" y="571" width="11.2" height="16.4" stroke-width="1.6" fill="#000" rx="3"/>
<path d="M789 575.4H791.4A2.6 3.8 0 0 1 791.4 583H789Z" fill="#fff" stroke="none"/>
<path d="M739.4 537V543.4A12.4 11 0 0 0 764.2 543.4V537" stroke-width="2.8"/>
<rect x="749.6" y="543" width="4.4" height="4.6" stroke-width="0" fill="#000" stroke="none"/>
<path d="M742 540.2H748M755.6 540.2H761.6" stroke-width="1.6" stroke="#000"/>
<path d="M751.8 537L751.8 543" stroke-width="2.2"/>
<rect x="716" y="545.2" width="6.6" height="7.4" stroke-width="0" fill="#000" stroke="none"/>
<rect x="719.6" y="538.6" width="2.8" height="2.8" stroke-width="0" fill="#000" stroke="none"/>
<rect x="771.4" y="537.6" width="13.6" height="5" stroke-width="0.9" fill="none"/>
<path d="M861 656.4H853.6A10.6 7.6 0 0 0 853.6 671.6H861" stroke-width="2"/>
<rect x="861" y="655.8" width="11.2" height="16.4" stroke-width="1.6" fill="#000" rx="3"/>
<path d="M864.6 660.2H867A2.6 3.8 0 0 1 867 667.8H864.6Z" fill="#fff" stroke="none"/>
<path d="M810.6 690.6V685A12.2 12.4 0 0 1 835 685V690.6" stroke-width="2.4"/>
<rect x="820.4" y="683.6" width="4.8" height="4" stroke-width="0" fill="#000" stroke="none"/>
<path d="M812 688L834 688" stroke-width="1.8"/>
<rect x="842.6" y="685.6" width="13.4" height="5" stroke-width="0.9" fill="none"/>
<path d="M879 700L879 857" stroke-width="2.6"/>
<path d="M896.4 606L896.4 856" stroke-width="1.2" stroke-dasharray="38 2 3 2"/>
<path d="M908 590.6Q896.6 591.5 896.4 606" stroke-width="1.6" stroke-dasharray="4 1.5"/>
<path d="M879 823.6A33.4 33.4 0 0 1 912.6 856" stroke-width="1.3"/>
<path d="M874.4 824L883 824" stroke-width="1.3"/>
<path d="M889.4 536L1019 536" stroke-width="2.4"/>
<path d="M893.6 590V586.6H898.2V589.8H902.8V586.6H907.4V589.8H912V586.6H916.6V589.8H921.2V586.6H925.8V589.8H930.4V586.6H935V589.8H939.6V586.6H944.2V589.8H948.8V586.6H953.4V589.8H958V586.6H962.6V589.8H967.2V586.6H971.8V589.8H976.4V586.6H981V589.8H985.6V586.6H990.2V589.8H994.8V586.6H999.4V589.8H1004V586.6H1008.6V589.8H1013.2V586.6H1017.6" stroke-width="1.4"/>
<g opacity="0.999">
<text transform="translate(161 674.4) rotate(90)" font-size="11.5" text-anchor="start" textLength="61.4" lengthAdjust="spacingAndGlyphs">1. sals plan</text>
<text transform="translate(161 852.8) rotate(90)" font-size="11.5" text-anchor="start" textLength="29.8" lengthAdjust="spacingAndGlyphs">1:100</text>
<text transform="translate(340.6 130) rotate(90)" font-size="11" text-anchor="start" textLength="51" lengthAdjust="spacingAndGlyphs">spisestue</text>
<text transform="translate(484.4 131) rotate(90)" font-size="11" text-anchor="start" textLength="44" lengthAdjust="spacingAndGlyphs">printrum</text>
<text transform="translate(954.4 521) rotate(90)" font-size="11" text-anchor="end" textLength="18.4" lengthAdjust="spacingAndGlyphs">hall</text>
<text transform="translate(940.6 521) rotate(90)" font-size="11" text-anchor="end" textLength="59" lengthAdjust="spacingAndGlyphs">kan bruges</text>
<text transform="translate(924.6 521) rotate(90)" font-size="11" text-anchor="end" textLength="50.4" lengthAdjust="spacingAndGlyphs">til display</text>
<text transform="translate(956 547) rotate(90)" font-size="10.5" text-anchor="start" textLength="30" lengthAdjust="spacingAndGlyphs">depot</text>
<text transform="translate(955.2 721) rotate(90)" font-size="11" text-anchor="start" textLength="62.6" lengthAdjust="spacingAndGlyphs">m&#248;delokale</text>
<text transform="translate(792.4 721.4) rotate(90)" font-size="11" text-anchor="start" textLength="30.4" lengthAdjust="spacingAndGlyphs">&#229;bent</text>
<text transform="translate(777.4 721.4) rotate(90)" font-size="11" text-anchor="start" textLength="62.4" lengthAdjust="spacingAndGlyphs">m&#248;delokale</text>
<text transform="translate(695.4 630) rotate(90)" font-size="9.5" text-anchor="start" textLength="32" lengthAdjust="spacingAndGlyphs">gard.</text>
<text transform="translate(664 17.4) rotate(90)" font-size="11" text-anchor="end" textLength="40" lengthAdjust="spacingAndGlyphs">arbejde</text>
<text transform="translate(1086.6 725.4) rotate(90)" font-size="11" text-anchor="start" textLength="138" lengthAdjust="spacingAndGlyphs">beplantning trukket v&#230;k fra</text>
<text transform="translate(1100.8 726) rotate(90)" font-size="11" text-anchor="start" textLength="116" lengthAdjust="spacingAndGlyphs">facaden s&#229; der er luft</text>
<text transform="translate(1114.8 726) rotate(90)" font-size="11" text-anchor="start" textLength="86" lengthAdjust="spacingAndGlyphs">(fx. gr&#230;s - siv m.m.)</text>
</g>
</svg>
</body></html>
